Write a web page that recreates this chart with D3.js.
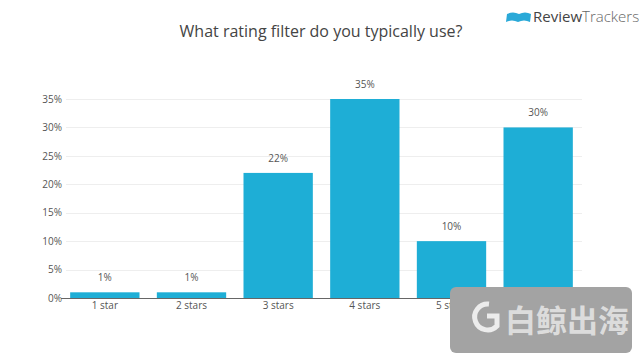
<!DOCTYPE html>
<html><head><meta charset="utf-8">
<script src="https://cdn.jsdelivr.net/npm/d3@7"></script>
<style>body{margin:0;background:#fff;font-family:"Open Sans",sans-serif;}</style>
</head><body><svg id="c" width="640" height="360"></svg>
<script>
const categories = ["1 star","2 stars","3 stars","4 stars","5 stars","No filter"];
const values = [1,1,22,35,10,30];
const yTicks = [0,5,10,15,20,25,30,35];

const svg = d3.select("#c");
const x = d3.scaleBand().domain(categories).range([61.5,581.5]).paddingInner(0.2).paddingOuter(0.1);
const y = d3.scaleLinear().domain([0,35]).range([298,99]);

svg.append("text").attr("x",321).attr("y",37).attr("text-anchor","middle")
  .attr("font-size",16).attr("fill","#444").text("What rating filter do you typically use?");

// logo
const lg = svg.append("g").attr("transform","translate(505,10)");
lg.append("path").attr("d","M2,4 Q8,1 14,4 Q20,1 26,4 L25,12 Q19,9 13,12 Q7,9 1,12 Z").attr("fill","#2aa9d8");
svg.append("text").attr("x",533).attr("y",22).attr("font-size",15).attr("fill","#444")
  .html('<tspan>Review</tspan><tspan fill="#666" font-weight="300">Trackers</tspan>');

// grid
svg.append("g").selectAll("line").data(yTicks.slice(1)).join("line")
  .attr("x1",66).attr("x2",582).attr("y1",d=>Math.round(y(d))+0.5).attr("y2",d=>Math.round(y(d))+0.5)
  .attr("stroke","#eeeeee");

const ya = svg.append("g").attr("transform","translate(66,0)")
  .call(d3.axisLeft(y).tickValues(yTicks).tickFormat(d=>d+"%").tickSize(0).tickPadding(4));
ya.select(".domain").remove();
ya.selectAll("text").attr("font-size",10).attr("fill","#555").attr("font-family","Open Sans");

svg.append("g").selectAll("rect").data(values).join("rect")
  .attr("x",(d,i)=>x(categories[i])).attr("width",x.bandwidth())
  .attr("y",d=>y(d)).attr("height",d=>y(0)-y(d)).attr("fill","#1eaed6");

svg.append("g").selectAll("text").data(values).join("text")
  .attr("x",(d,i)=>x(categories[i])+x.bandwidth()/2).attr("y",d=>y(d)-11)
  .attr("text-anchor","middle").attr("font-size",10).attr("fill","#555").text(d=>d+"%");

const xa = svg.append("g").attr("transform","translate(0,298)")
  .call(d3.axisBottom(x).tickSize(0).tickPadding(4));
xa.select(".domain").attr("d","M61,0.5H582").attr("stroke","#666");
xa.selectAll("text").attr("font-size",10).attr("fill","#555").attr("font-family","Open Sans");
svg.append("line").attr("x1",61).attr("x2",66).attr("y1",298.5).attr("y2",298.5).attr("stroke","#666");

// watermark overlay
const wm = svg.append("g");
wm.append("rect").attr("x",450).attr("y",287).attr("width",182).attr("height",66).attr("rx",6)
  .attr("fill","#a3a3a3");
wm.append("path").attr("d","M489,304 A13,13 0 1 0 497,326 L497,316 L487,316").attr("fill","none")
  .attr("stroke","#ececec").attr("stroke-width",5);
wm.append("text").attr("x",567).attr("y",332).attr("text-anchor","middle").attr("font-size",31)
  .attr("font-family","Noto Sans CJK SC").attr("font-weight","bold").attr("fill","#dcdcdc").text("白鲸出海");
</script></body></html>
